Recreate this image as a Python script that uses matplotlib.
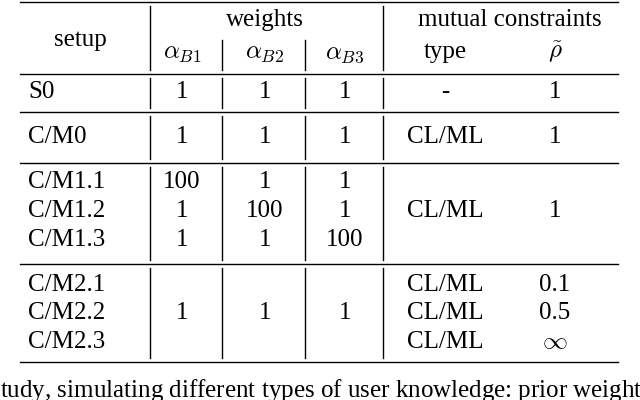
import matplotlib.pyplot as plt
from matplotlib.lines import Line2D

plt.rcParams['font.family'] = ['Liberation Serif', 'DejaVu Serif']
plt.rcParams['mathtext.fontset'] = 'cm'

# table content
setups = ['S0', 'C/M0', 'C/M1.1', 'C/M1.2', 'C/M1.3', 'C/M2.1', 'C/M2.2', 'C/M2.3']
alpha_b1 = ['1', '1', '100', '1', '1', '', '1', '']
alpha_b2 = ['1', '1', '1', '100', '1', '', '1', '']
alpha_b3 = ['1', '1', '1', '1', '100', '', '1', '']
types = ['-', 'CL/ML', '', 'CL/ML', '', 'CL/ML', 'CL/ML', 'CL/ML']
rhos = ['1', '1', '', '1', '', '0.1', '0.5', r'$\infty$']
row_y = [92, 137, 182, 211, 240, 285, 313, 342]

W, H = 640, 400
fig = plt.figure(figsize=(6.4, 4.0), dpi=100)

def t(x, y, s, ha='center', size=18):
    fig.text(x / W, 1 - y / H, s, ha=ha, va='center', fontsize=size)

def hline(x0, x1, y, lw=1.0):
    fig.add_artist(Line2D([x0 / W, x1 / W], [1 - y / H, 1 - y / H], color='black', lw=lw))

def vline(x, y0, y1):
    fig.add_artist(Line2D([x / W, x / W], [1 - y0 / H, 1 - y1 / H], color='black', lw=1.0))

col_x = [80, 182, 265, 345, 445, 555]

# header
t(80, 40, 'setup')
t(265, 20, 'weights')
t(510, 20, 'mutual constraints')
t(182, 54, r'$\alpha_{B1}$')
t(265, 54, r'$\alpha_{B2}$')
t(345, 54, r'$\alpha_{B3}$')
t(445, 52, 'type')
t(555, 52, r'$\tilde{\rho}$')

for i, y in enumerate(row_y):
    t(28, y, setups[i], ha='left')
    t(col_x[1], y, alpha_b1[i])
    t(col_x[2], y, alpha_b2[i])
    t(col_x[3], y, alpha_b3[i])
    t(col_x[4], y, types[i])
    t(col_x[5], y, rhos[i])

# horizontal rules
for y in [2, 74, 112, 163, 264, 362]:
    hline(20, 618, y)

# vertical rules per block
blocks = [(6, 70), (78, 108), (116, 159), (167, 260), (268, 358)]
for y0, y1 in blocks:
    vline(150, y0, y1)
    vline(383, y0, y1)
for y0, y1 in blocks[1:]:
    vline(222, y0, y1)
    vline(305, y0, y1)
vline(222, 40, 70)
vline(305, 40, 70)

t(0, 390, 'tudy, simulating different types of user knowledge: prior weights ' + r'$\alpha$', ha='left')

fig.savefig('out.png', dpi=100)
